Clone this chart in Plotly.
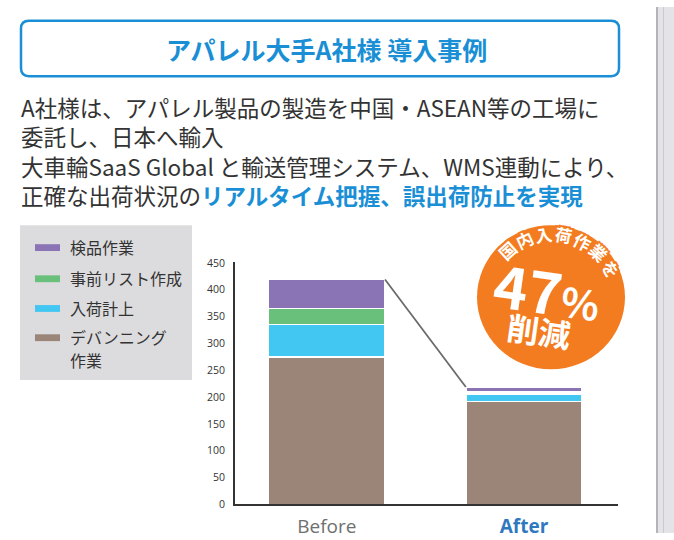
import math
import plotly.graph_objects as go

# ---------------- data ----------------
categories = ["Before", "After"]
series_names = ["デバンニング<br>作業", "入荷計上", "事前リスト作成", "検品作業"]
devanning = [275, 192]
nyuka_keijo = [60, 14]
jizen_list = [30, 4]
kenpin = [54, 9]
series_values = [devanning, nyuka_keijo, jizen_list, kenpin]
series_colors = ["#9a8578", "#42c6f2", "#69c07b", "#8b74b6"]
y_ticks = [0, 50, 100, 150, 200, 250, 300, 350, 400, 450]
legend_order = [3, 2, 1, 0]  # top-to-bottom in legend box

title_text = "アパレル大手A社様 導入事例"
body_lines = [
    "A社様は、アパレル製品の製造を中国・ASEAN等の工場に",
    "委託し、日本へ輸入",
    "大車輪SaaS Global と輸送管理システム、WMS連動により、",
]
body_last_plain = "正確な出荷状況の"
body_last_blue = "リアルタイム把握、誤出荷防止を実現"
badge_arc = "国内入荷作業を"
badge_pct = "47"
badge_word = "削減"

W, H = 674, 540
JP = "Noto Sans CJK JP"
BLUE = "#1a8fd5"
ORANGE = "#f47c20"


def px(x):
    return x / W


def py(y):
    return 1 - y / H


fig = go.Figure()
bar_x = [0, 1]
bar_w = 0.59
for name, vals, col in zip(series_names, series_values, series_colors):
    fig.add_trace(go.Bar(
        x=bar_x, y=vals, name=name, width=bar_w,
        marker=dict(color=col, line=dict(color="white", width=1.5)),
        showlegend=False, hoverinfo="skip"))

totals = [sum(v[i] for v in series_values) for i in range(len(categories))]
fig.add_trace(go.Scatter(
    x=[bar_x[0] + bar_w / 2, bar_x[1] - bar_w / 2], y=totals,
    mode="lines", line=dict(color="#6b6b6b", width=1.8),
    showlegend=False, hoverinfo="skip"))

shapes = []
annotations = []

# title box (rounded)
r = 8
x0, x1, y0, y1 = 21, 619, 14, 71
path = (f"M {px(x0 + r)},{py(y0)} L {px(x1 - r)},{py(y0)} "
        f"Q {px(x1)},{py(y0)} {px(x1)},{py(y0 + r)} "
        f"L {px(x1)},{py(y1 - r)} Q {px(x1)},{py(y1)} {px(x1 - r)},{py(y1)} "
        f"L {px(x0 + r)},{py(y1)} Q {px(x0)},{py(y1)} {px(x0)},{py(y1 - r)} "
        f"L {px(x0)},{py(y0 + r)} Q {px(x0)},{py(y0)} {px(x0 + r)},{py(y0)} Z")
shapes.append(dict(type="path", xref="paper", yref="paper", path=path,
                   line=dict(color=BLUE, width=2.5), fillcolor="white"))
annotations.append(dict(x=px(326), y=py(43), xref="paper", yref="paper",
                        text=f"<b>{title_text}</b>", showarrow=False,
                        font=dict(family=JP, size=25, color=BLUE),
                        xanchor="center", yanchor="middle"))

# body text (one block, 4 lines)
body_html = "<br>".join(body_lines + [
    f"{body_last_plain}<span style='color:{BLUE}'><b>{body_last_blue}</b></span>"])
annotations.append(dict(x=px(19), y=py(147.5), xref="paper", yref="paper",
                        text=body_html, showarrow=False, align="left",
                        font=dict(family=JP, size=22.5, color="#333333"),
                        xanchor="left", yanchor="middle"))

# legend box
shapes.append(dict(type="rect", xref="paper", yref="paper",
                   x0=px(20), x1=px(192), y0=py(224), y1=py(383),
                   line=dict(width=0), fillcolor="#dcdcde", layer="below"))
leg_ys = [247, 279, 309.5, 339.5]
for k, idx in enumerate(legend_order):
    yy = leg_ys[k]
    shapes.append(dict(type="rect", xref="paper", yref="paper",
                       x0=px(35), x1=px(60), y0=py(yy - 3.5), y1=py(yy + 3.5),
                       line=dict(width=0), fillcolor=series_colors[idx]))
    for j, part in enumerate(series_names[idx].split("<br>")):
        annotations.append(dict(x=px(68), y=py(yy - 1 + 24 * j), xref="paper", yref="paper",
                                text=part, showarrow=False, align="left",
                                font=dict(family=JP, size=16, color="#333333"),
                                xanchor="left", yanchor="middle"))

# badge
cx, cy, cr = 551, 298, 74
shapes.append(dict(type="circle", xref="paper", yref="paper",
                   x0=px(cx - cr), x1=px(cx + cr), y0=py(cy + cr), y1=py(cy - cr),
                   line=dict(width=0), fillcolor=ORANGE))
outline = ", ".join(f"{dx}px {dy}px 0 {ORANGE}" for dx in (-2, 0, 2) for dy in (-2, 0, 2))
ar = 67
for i, ch in enumerate(badge_arc):
    ang = -42 + 17.3 * i
    a = math.radians(ang)
    xx = cx + 1 + ar * math.sin(a)
    yy = cy + 2 - ar * math.cos(a)
    annotations.append(dict(x=px(xx), y=py(yy), xref="paper", yref="paper",
                            text=f"<b>{ch}</b>", showarrow=False, textangle=ang,
                            font=dict(family=JP, size=17, color="white", shadow=outline),
                            xanchor="center", yanchor="middle"))
annotations.append(dict(x=px(547), y=py(290), xref="paper", yref="paper",
                        text=f"<b>{badge_pct}<span style='font-size:40px'>%</span></b>",
                        showarrow=False, textangle=8,
                        font=dict(family=JP, size=58, color="white"),
                        xanchor="center", yanchor="middle"))
annotations.append(dict(x=px(539), y=py(332), xref="paper", yref="paper",
                        text=f"<b>{badge_word}</b>", showarrow=False, textangle=8,
                        font=dict(family=JP, size=32, color="white"),
                        xanchor="center", yanchor="middle"))

# scrollbar at right edge
shapes.append(dict(type="rect", xref="paper", yref="paper",
                   x0=px(656), x1=1, y0=0, y1=1,
                   line=dict(width=0), fillcolor="#e4e4e8"))
shapes.append(dict(type="line", xref="paper", yref="paper",
                   x0=px(657), x1=px(657), y0=0, y1=1,
                   line=dict(color="#b4b4b9", width=2)))
shapes.append(dict(type="line", xref="paper", yref="paper",
                   x0=px(663.5), x1=px(663.5), y0=0, y1=1,
                   line=dict(color="#cbcbcf", width=1)))

fig.update_layout(
    width=W, height=H, autosize=False,
    margin=dict(l=0, r=0, t=0, b=0),
    paper_bgcolor="white", plot_bgcolor="white",
    barmode="stack", showlegend=False,
    shapes=shapes, annotations=annotations,
    xaxis=dict(domain=[px(235), px(618)], range=[-0.466, 1.477],
               tickvals=bar_x,
               ticktext=[f"<span style='color:#6f6f6f'>{categories[0]}</span>",
                         f"<b><span style='color:#2f78c0'>{categories[1]}</span></b>"],
               tickfont=dict(family="Open Sans", size=19, color="#6f6f6f"),
               showline=True, linecolor="#333333", linewidth=1.8,
               showgrid=False, zeroline=False, ticks="", ticklabelstandoff=4,
               fixedrange=True),
    yaxis=dict(domain=[py(510.7), py(262.2)], range=[0, 451],
               tickvals=y_ticks,
               tickfont=dict(family="Open Sans", size=10.5, color="#333333"),
               showline=True, linecolor="#333333", linewidth=1.8,
               showgrid=False, zeroline=False, ticks="", ticklabelstandoff=6,
               fixedrange=True),
)

fig.write_html(
    "out.html",
    config={"displayModeBar": False, "staticPlot": True},
    post_script="document.body.style.margin='0';document.body.style.overflow='hidden';",
)
